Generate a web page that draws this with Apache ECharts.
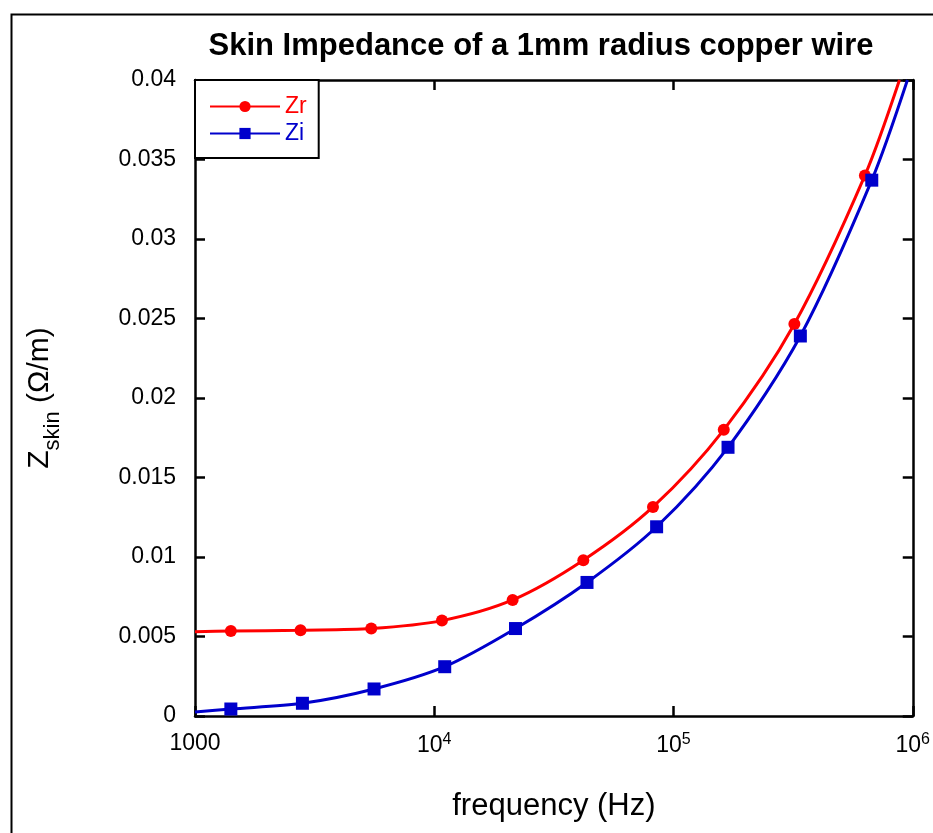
<!DOCTYPE html>
<html>
<head>
<meta charset="utf-8">
<script src="https://cdn.jsdelivr.net/npm/echarts@6/dist/echarts.min.js"></script>
<style>
html,body{margin:0;padding:0;background:#fff;}
#chart{width:933px;height:833px;}
</style>
</head>
<body>
<div id="chart"></div>
<script>
// Data
const zrFreq = [1000, 1412, 2761, 5453, 10770, 21260, 41980, 82070, 162200, 320000, 631000, 880000];
const zrVals = [0.0053, 0.00534, 0.0054, 0.0055, 0.0060, 0.0073, 0.0098, 0.01315, 0.0180, 0.02465, 0.0340, 0.0400];
const ziFreq = [1000, 1412, 2812, 5602, 11060, 21860, 43500, 85000, 169000, 339000, 674000, 950000];
const ziVals = [0.00025, 0.00044, 0.0008, 0.0017, 0.0031, 0.0055, 0.0084, 0.0119, 0.0169, 0.0239, 0.0337, 0.0400];
const xTicks = [1000, 10000, 100000, 1000000];
const yTicks = [0, 0.005, 0.01, 0.015, 0.02, 0.025, 0.03, 0.035, 0.04];

const FONT = '"Liberation Sans", Arial, sans-serif';

function build(freq, vals) {
  return freq.map((f, i) => {
    const item = { value: [f, vals[i]] };
    if (i === 0 || i === freq.length - 1) item.symbol = 'none';
    return item;
  });
}

const chart = echarts.init(document.getElementById('chart'), null, { renderer: 'canvas' });

const axisLine = { show: true, onZero: false, lineStyle: { color: '#000', width: 2.5 } };
const axisTick = { show: true, inside: true, length: 10, lineStyle: { color: '#000', width: 2.5 } };

chart.setOption({
  backgroundColor: '#fff',
  animation: false,
  title: {
    text: 'Skin Impedance of a 1mm radius copper wire',
    left: 536, textAlign: 'center', top: 26,
    textStyle: { fontFamily: FONT, fontSize: 31, fontWeight: 'bold', color: '#000' }
  },
  graphic: [{
    type: 'rect', left: 9, top: 12, silent: true,
    shape: { width: 1000, height: 1000 },
    style: { fill: 'none', stroke: '#000', lineWidth: 2 }
  }],
  legend: {
    left: 195, top: 80, orient: 'vertical',
    itemWidth: 70, itemHeight: 14, itemGap: 4,
    padding: [15, 12, 13, 14],
    borderColor: '#000', borderWidth: 2, backgroundColor: '#fff',
    textStyle: { fontFamily: FONT, fontSize: 23 },
    data: [
      { name: 'Zr', textStyle: { color: '#ff0000' } },
      { name: 'Zi', textStyle: { color: '#0000cc' } }
    ]
  },
  grid: { left: 195, right: 17, top: 80, bottom: 117 },
  xAxis: [{
    type: 'log', logBase: 10, min: xTicks[0], max: xTicks[xTicks.length - 1],
    position: 'bottom',
    axisLine, axisTick, splitLine: { show: false }, minorTick: { show: false },
    axisLabel: {
      margin: 16, fontFamily: FONT, fontSize: 23, color: '#000',
      formatter: v => v === xTicks[0] ? String(v) : '10{sup|' + Math.round(Math.log10(v)) + '}',
      rich: { sup: { fontSize: 16, verticalAlign: 'top', padding: [0, 0, 12, 0], fontFamily: FONT, color: '#000' } }
    },
    name: 'frequency (Hz)', nameLocation: 'middle', nameGap: 75,
    nameTextStyle: { fontFamily: FONT, fontSize: 31, color: '#000' }
  }, {
    type: 'log', logBase: 10, min: xTicks[0], max: xTicks[xTicks.length - 1],
    position: 'top',
    axisLine, axisTick, splitLine: { show: false }, axisLabel: { show: false }
  }],
  yAxis: [{
    type: 'value', min: 0, max: yTicks[yTicks.length - 1], interval: 0.005,
    position: 'left',
    axisLine, axisTick, splitLine: { show: false },
    axisLabel: { margin: 19, fontFamily: FONT, fontSize: 23, color: '#000', formatter: v => String(+v.toFixed(3)) },
    name: '{z|Z}{s|skin}{z| (Ω/m)}', nameLocation: 'middle', nameGap: 131, nameRotate: 90,
    nameTextStyle: {
      fontFamily: FONT, color: '#000',
      rich: {
        z: { fontSize: 30, fontFamily: FONT, color: '#000' },
        s: { fontSize: 22, fontFamily: FONT, color: '#000', padding: [26, 0, 0, 0] }
      }
    }
  }, {
    type: 'value', min: 0, max: yTicks[yTicks.length - 1], interval: 0.005,
    position: 'right',
    axisLine, axisTick, splitLine: { show: false }, axisLabel: { show: false }
  }],
  series: [{
    name: 'Zr', type: 'line', smooth: 0.3,
    data: build(zrFreq, zrVals),
    symbol: 'circle', symbolSize: 12, showAllSymbol: true,
    lineStyle: { color: '#ff0000', width: 3 },
    itemStyle: { color: '#ff0000' }
  }, {
    name: 'Zi', type: 'line', smooth: 0.3,
    data: build(ziFreq, ziVals),
    symbol: 'rect', symbolSize: 13, showAllSymbol: true,
    lineStyle: { color: '#0000cc', width: 3 },
    itemStyle: { color: '#0000cc' }
  }]
});
</script>
</body>
</html>
